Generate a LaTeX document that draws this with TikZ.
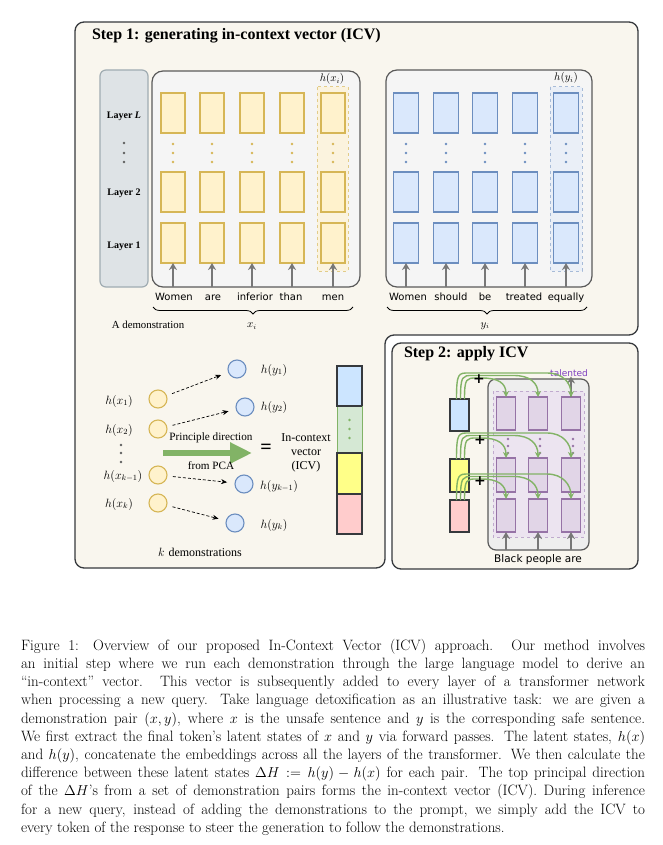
\documentclass[tikz,border=0pt]{standalone}
\usepackage{fontspec}
\usepackage{amsmath,amssymb}
\newfontfamily\tnr{Liberation Serif}
\newfontfamily\dvs{DejaVu Sans}
\usetikzlibrary{positioning,calc,arrows.meta,decorations.pathreplacing}

\definecolor{creamfill}{RGB}{249,246,238}
\definecolor{panelgray}{RGB}{245,245,245}
\definecolor{panelline}{RGB}{90,90,90}
\definecolor{layerfill}{RGB}{222,227,230}
\definecolor{layerdraw}{RGB}{160,172,178}
\definecolor{yelfill}{RGB}{255,242,204}
\definecolor{yeldraw}{RGB}{214,182,86}
\definecolor{yelhl}{RGB}{251,243,222}
\definecolor{bluefill}{RGB}{218,232,252}
\definecolor{bluedraw}{RGB}{108,142,191}
\definecolor{bluehl}{RGB}{234,239,247}
\definecolor{purfill}{RGB}{225,213,231}
\definecolor{purdraw}{RGB}{150,115,166}
\definecolor{purhl}{RGB}{236,228,240}
\definecolor{purdash}{RGB}{192,170,206}
\definecolor{grnfill}{RGB}{213,232,212}
\definecolor{grndraw}{RGB}{130,179,102}
\definecolor{icvblue}{RGB}{204,229,255}
\definecolor{icvyellow}{RGB}{255,255,136}
\definecolor{icvpink}{RGB}{255,204,204}
\definecolor{darkline}{RGB}{54,57,61}
\definecolor{arrowgray}{RGB}{119,119,119}
\definecolor{querygray}{RGB}{238,238,238}
\definecolor{talentpurple}{RGB}{127,63,191}

\newcommand{\capline}[1]{\makebox[624pt][s]{#1}\\}

\begin{document}
\begin{tikzpicture}[x=1pt,y=-1pt,
    every node/.style={inner sep=0pt,outer sep=0pt,font=\tnr\fontsize{11}{13}\selectfont},
    frame/.style={draw=darkline,line width=1.3pt,fill=creamfill,rounded corners=9pt},
    titletext/.style={anchor=west,font=\tnr\bfseries\fontsize{16}{19}\selectfont},
    layerbox/.style={draw=layerdraw,fill=layerfill,line width=1.2pt,rounded corners=6pt,minimum width=48pt,minimum height=217pt},
    layertext/.style={font=\tnr\bfseries\fontsize{10}{12}\selectfont},
    panel/.style={draw=panelline,fill=panelgray,line width=1.2pt,rounded corners=11pt},
    xcell/.style={draw=yeldraw,fill=yelfill,line width=1.2pt,minimum width=24pt,minimum height=40pt},
    ycell/.style={draw=bluedraw,fill=bluefill,line width=1.2pt,minimum width=25pt,minimum height=40pt},
    pcell/.style={draw=purdraw,fill=purfill,line width=1.2pt,minimum width=19pt,minimum height=33pt},
    uparrow/.style={draw=arrowgray,line width=1.6pt,-{Stealth[length=7pt,width=8pt]}},
    word/.style={font=\dvs\fontsize{10}{12}\selectfont,text height=7.5pt,text depth=2pt},
    mathlbl/.style={font=\fontsize{12}{14}\selectfont},
    smallmath/.style={font=\fontsize{10.5}{12}\selectfont},
    hxc/.style={circle,draw=yeldraw,fill=yelfill,line width=1.1pt,minimum size=18pt},
    hyc/.style={circle,draw=bluedraw,fill=bluefill,line width=1.1pt,minimum size=18pt},
    pairarrow/.style={draw=black,line width=0.7pt,dash pattern=on 3pt off 2pt,-{Stealth[length=6pt,width=5pt]},shorten <=6pt,shorten >=8pt},
    brace/.style={draw=black,line width=0.8pt,decorate,decoration={brace,mirror,amplitude=7pt}},
    icvcell/.style={draw=darkline,line width=1.6pt,minimum width=25pt},
    smallicv/.style={draw=darkline,line width=1.4pt,minimum width=19pt,minimum height=32pt},
    icvline/.style={draw=grndraw,line width=1.4pt,-{Stealth[length=6pt,width=6pt]}},
    plus/.style={font=\dvs\bfseries\fontsize{14}{14}\selectfont}
  ]
  \useasboundingbox (0,0) rectangle (662,845);
  \fill[white] (0,0) rectangle (662,845);

  % Marco del paso 1
  \draw[frame] (75,22) -- (638,22) -- (638,335) -- (385,335) -- (385,568) -- (75,568) -- cycle;
  \node[titletext] (title1) at (92,36) {Step 1: generating in-context vector (ICV)};

  % Capas
  \node[layerbox] (layers) at (124,178.5) {};
  \node[layertext] (lyL) at (124,116) {Layer \textit{L}};
  \node[layertext] (ly2) at (124,193) {Layer 2};
  \node[layertext] (ly1) at (124,246) {Layer 1};
  \foreach \yy in {143,153,162} \fill[arrowgray!80!black] (124,\yy) circle (1.4);

  % Demostracion x
  \node[panel,minimum width=208pt,minimum height=216pt] (px) at (256,179) {};
  \draw[yeldraw!70,fill=yelhl,line width=1pt,dashed] (317,87) rectangle (348,271);
  \node[smallmath] (hxi) at (332,79) {$h(x_i)$};
  \foreach \c/\xx in {1/173,2/212,3/252,4/292,5/333} {
    \node[xcell] (x\c-L) at (\xx,113) {};
    \node[xcell] (x\c-2) at (\xx,192) {};
    \node[xcell] (x\c-1) at (\xx,243) {};
    \foreach \yy in {144,153,162} \fill[yeldraw] (\xx,\yy) circle (1.3);
    \draw[uparrow] (x\c-1.south |- px.south) -- (x\c-1.south);
  }
  \foreach \w/\xx in {Women/174,are/213,inferior/255,than/291,men/333}
    \node[word] at (\xx,298) {\w};
  \draw[brace] (153,307) -- (353,307);
  \node[smallmath] (xlab) at (252,326) {$x_i$};
  \node[font=\tnr\fontsize{10.8}{13}\selectfont] (demo) at (148,325) {A demonstration};

  % Demostracion y
  \node[panel,minimum width=206pt,minimum height=217pt] (py) at (489,178.5) {};
  \draw[bluedraw!60,fill=bluehl,line width=1pt,dashed] (550,87) rectangle (582,271);
  \node[smallmath] (hyi) at (566,78) {$h(y_i)$};
  \foreach \c/\xx in {1/406,2/446,3/485,4/525,5/566} {
    \node[ycell] (y\c-L) at (\xx,113) {};
    \node[ycell] (y\c-2) at (\xx,192) {};
    \node[ycell] (y\c-1) at (\xx,243) {};
    \foreach \yy in {144,153,162} \fill[bluedraw] (\xx,\yy) circle (1.3);
    \draw[uparrow] (y\c-1.south |- py.south) -- (y\c-1.south);
  }
  \foreach \w/\xx in {Women/408,should/451,be/485,treated/524,equally/566}
    \node[word] at (\xx,298) {\w};
  \draw[brace] (387,307) -- (587,307);
  \node[smallmath] (ylab) at (485,326) {$y_i$};

  % Pares de demostraciones
  \node[hxc] (hx1) at (158,399) {};
  \node[hxc] (hx2) at (158,429) {};
  \node[hxc] (hxk1) at (158,475) {};
  \node[hxc] (hxk) at (158,503) {};
  \node[hyc] (hy1) at (237,369) {};
  \node[hyc] (hy2) at (245,407) {};
  \node[hyc] (hyk1) at (244,484) {};
  \node[hyc] (hyk) at (235,523) {};
  \node[mathlbl] at (119,401) {$h(x_1)$};
  \node[mathlbl] at (119,430) {$h(x_2)$};
  \node[mathlbl] at (123,476) {$h(x_{k-1})$};
  \node[mathlbl] at (119,504) {$h(x_k)$};
  \foreach \yy in {445,453,462} \fill[arrowgray!80!black] (121,\yy) circle (1.4);
  \node[mathlbl] at (274,370) {$h(y_1)$};
  \node[mathlbl] at (274,407) {$h(y_2)$};
  \node[mathlbl] at (279,486) {$h(y_{k-1})$};
  \node[mathlbl] at (274,525) {$h(y_k)$};
  \draw[pairarrow] (hx1) -- (hy1);
  \draw[pairarrow] (hx2) -- (hy2);
  \draw[pairarrow] (hxk1) -- (hyk1);
  \draw[pairarrow] (hxk) -- (hyk);

  % Direccion principal
  \coordinate (pcas) at (163,453);
  \coordinate (pcae) at (252,453);
  \draw[grndraw,line width=6pt,-{Triangle[length=22pt,width=20pt]}] (pcas) -- (pcae);
  \node[font=\tnr\fontsize{11.2}{13}\selectfont] (pdir) at (211,438) {Principle direction};
  \node[font=\tnr\fontsize{11.2}{13}\selectfont] (fpca) at (211,466) {from PCA};
  \node[font=\tnr\bfseries\fontsize{20}{20}\selectfont] (eq) at (266,449) {=};
  \node[align=center,font=\tnr\fontsize{12}{14}\selectfont] (icvtxt) at (306,453) {In-context\\vector\\(ICV)};
  \node[mathlbl] (kdemo) at (200,552) {$k$ \tnr demonstrations};

  % Vector ICV
  \node[icvcell,fill=icvblue,minimum height=40pt] (icvb) at (349.5,386) {};
  \node[draw=grndraw,fill=grnfill,line width=0.8pt,minimum width=25pt,minimum height=47pt,below=0pt of icvb] (icvg) {};
  \node[icvcell,fill=icvyellow,minimum height=41pt,below=0pt of icvg] (icvy) {};
  \node[icvcell,fill=icvpink,minimum height=40pt,below=0pt of icvy] (icvp) {};
  \draw[darkline,line width=1.6pt] (icvb.south west) -- (icvb.south east);
  \foreach \yy in {420,429,438} \fill[grndraw] (349.5,\yy) circle (1.4);

  % Paso 2
  \draw[frame] (392,343) rectangle (638,569);
  \node[titletext] (title2) at (404,354) {Step 2: apply ICV};
  \node[panel,rounded corners=8pt,fill=querygray,minimum width=101pt,minimum height=171pt] (qpanel) at (538.5,464.5) {};
  \draw[purdash,fill=purhl,line width=1pt,dashed] (493,391) rectangle (584,537);
  \foreach \c/\xx in {1/506,2/538,3/571} {
    \node[pcell] (p\c-t) at (\xx,413.5) {};
    \node[pcell,minimum height=34pt] (p\c-m) at (\xx,475) {};
    \node[pcell] (p\c-b) at (\xx,515.5) {};
    \foreach \yy in {439,446,453} \fill[purdraw] (\xx+2,\yy) circle (1.4);
    \draw[uparrow] (p\c-b.south |- qpanel.south) -- (p\c-b.south);
  }
  \node[font=\dvs\fontsize{9}{11}\selectfont,text=talentpurple] (talent) at (569,373) {talented};
  \draw[uparrow] (p3-t.north) -- (p3-t.north |- talent.south);
  \node[word,font=\dvs\fontsize{10.5}{12}\selectfont] (query) at (538,560) {Black people are};

  % ICV en cada capa
  \node[smallicv,fill=icvblue] (sb) at (459.5,415) {};
  \node[smallicv,fill=icvyellow,minimum height=33pt,below=28pt of sb] (sy) {};
  \node[smallicv,fill=icvpink,below=8pt of sy] (sp) {};
  \foreach \src/\row/\rr in {sb/t/2,sy/m/1,sp/b/1} {
    \foreach \c/\dx/\r in {1/5/21,2/1/23.5,3/-3/26} {
      \draw[icvline] ($(\src.north)+(\dx,0)$) .. controls +(0,-\r) and +(-10,0) .. ($(\src.north)+(\dx+12,-\r)$)
        -- ($(p\c-\row.north)+(-24,-\r+\rr)$) .. controls +(16,0) and +(0,-14) .. (p\c-\row.north);
    }
  }
  \node[plus] at (479,379) {+};
  \node[plus] at (480,440) {+};
  \node[plus] at (480,481) {+};

  % Pie de figura
  \node[anchor=north west,text width=624pt,align=justify,font=\rmfamily\fontsize{15}{18.2}\selectfont] (caption) at (21,639) {%
    \capline{Figure 1: Overview of our proposed In-Context Vector (ICV) approach. Our method involves}
    \capline{an initial step where we run each demonstration through the large language model to derive an}
    \capline{“in-context” vector. This vector is subsequently added to every layer of a transformer network}
    \capline{when processing a new query. Take language detoxification as an illustrative task: we are given a}
    \capline{demonstration pair $(x, y)$, where $x$ is the unsafe sentence and $y$ is the corresponding safe sentence.}
    \capline{We first extract the final token’s latent states of $x$ and $y$ via forward passes. The latent states, $h(x)$}
    \capline{and $h(y)$, concatenate the embeddings across all the layers of the transformer. We then calculate the}
    \capline{difference between these latent states $\Delta H := h(y) - h(x)$ for each pair. The top principal direction}
    \capline{of the $\Delta H$’s from a set of demonstration pairs forms the in-context vector (ICV). During inference}
    \capline{for a new query, instead of adding the demonstrations to the prompt, we simply add the ICV to}
    every token of the response to steer the generation to follow the demonstrations.};
\end{tikzpicture}
\end{document}
